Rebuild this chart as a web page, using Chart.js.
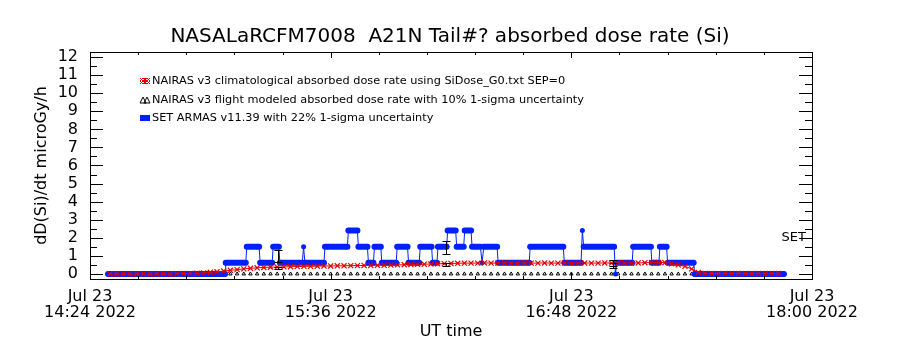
<!DOCTYPE html>
<html>
<head>
<meta charset="utf-8">
<title>NASALaRCFM7008 A21N absorbed dose rate</title>
<script src="https://cdn.jsdelivr.net/npm/chart.js@4/dist/chart.umd.min.js"></script>
<style>
  html, body { margin: 0; padding: 0; background: #fff; }
  canvas { display: block; }
</style>
</head>
<body>
<canvas id="doseChart" width="900" height="350"></canvas>
<script>
// Sample times in minutes after 14:24 UT (Jul 23 2022)
const sampleTimes = [
  6, 8, 10, 12, 14, 16, 18, 20, 22, 24,
  26, 28, 30, 32, 34, 36, 38, 40, 42, 44,
  46, 48, 50, 52, 54, 56, 58, 60, 62, 64,
  66, 68, 70, 72, 74, 76, 78, 80, 82, 84,
  86, 88, 90, 92, 94, 96, 98, 100, 102, 104,
  106, 108, 110, 112, 114, 116, 118, 120, 122, 124,
  126, 128, 130, 132, 134, 136, 138, 140, 142, 144,
  146, 148, 150, 152, 154, 156, 158, 160, 162, 164,
  166, 168, 170, 172, 174, 176, 178, 180, 182, 184,
  186, 188, 190, 192, 194, 196, 198, 200, 202, 204,
  206
];

// NAIRAS v3 climatological absorbed dose rate (microGy/h)
const climDose = [
  0, 0, 0, 0, 0, 0, 0, 0, 0, 0,
  0.01, 0.02, 0.03, 0.04, 0.06, 0.09, 0.12, 0.16, 0.2, 0.24,
  0.28, 0.31, 0.34, 0.36, 0.37, 0.38, 0.39, 0.4, 0.41, 0.42,
  0.42, 0.43, 0.44, 0.44, 0.45, 0.45, 0.46, 0.46, 0.47, 0.47,
  0.48, 0.48, 0.49, 0.5, 0.51, 0.52, 0.53, 0.54, 0.55, 0.56,
  0.57, 0.58, 0.59, 0.6, 0.6, 0.6, 0.61, 0.6, 0.6, 0.61,
  0.6, 0.6, 0.61, 0.6, 0.6, 0.61, 0.6, 0.6, 0.61, 0.6,
  0.6, 0.61, 0.6, 0.6, 0.61, 0.6, 0.6, 0.61, 0.6, 0.61,
  0.62, 0.63, 0.64, 0.62, 0.56, 0.5, 0.42, 0.28, 0.08, 0.03,
  0.02, 0.02, 0.02, 0.02, 0.02, 0.02, 0.02, 0.02, 0.02, 0.02,
  0.02
];

// NAIRAS v3 flight modeled absorbed dose rate (microGy/h)
const modeledDose = [
  0, 0, 0, 0, 0, 0, 0, 0, 0, 0,
  0, 0, 0, 0, 0, 0, 0, 0, 0, 0,
  0, 0, 0, 0, 0, 0, 0, 0, 0, 0,
  0, 0, 0, 0, 0, 0, 0, 0, 0, 0,
  0, 0, 0, 0, 0, 0, 0, 0, 0, 0,
  0, 0, 0, 0, 0, 0, 0, 0, 0, 0,
  0, 0, 0, 0, 0, 0, 0, 0, 0, 0,
  0, 0, 0, 0, 0, 0, 0, 0, 0, 0,
  0, 0, 0, 0, 0, 0, 0, 0, 0, 0,
  0, 0, 0, 0, 0, 0, 0, 0, 0, 0,
  0
];

// SET ARMAS v11.39 readings, as runs of constant dose rate
const setRunStart = [
  5.4, 40.6, 46.9, 50.9, 54.8, 56.8, 63.9, 64.3, 70.3, 77.3,
  80.3, 83.3, 85.1, 87.3, 91.9, 95.3, 98.8, 102.5, 104.1, 107.0,
  109.7, 112.1, 114.3, 117.3, 117.8, 122.1, 131.7, 141.9, 147.3, 147.7,
  157.2, 157.6, 162.5, 168.1, 170.5, 172.8, 180.9
];
const setRunEnd = [
  40.4, 46.6, 50.6, 54.5, 56.5, 63.5, 63.9, 70.0, 77.0, 80.0,
  83.0, 84.8, 87.0, 91.6, 95.0, 98.5, 102.2, 103.8, 106.7, 109.4,
  111.8, 114.0, 116.8, 117.3, 121.8, 131.4, 141.6, 146.9, 147.3, 156.8,
  157.2, 162.2, 167.8, 170.2, 172.5, 180.6, 207.6
];
const setRunDose = [
  0, 0.62, 1.5, 0.62, 1.5, 0.62, 1.5, 0.62, 1.5, 2.4,
  1.5, 0.62, 1.5, 0.62, 1.5, 0.62, 1.5, 0.62, 1.5, 2.4,
  1.5, 2.4, 1.5, 0.62, 1.5, 0.62, 1.5, 0.62, 2.4, 1.5,
  0, 0.62, 1.5, 0.62, 1.5, 0.62, 0
];

// uncertainty bars
const errTimes = [56.2, 106.6, 156.4];
const setErrLow = [0.67, 1.11, 0.33];
const setErrHigh = [1.33, 1.83, 0.78];
const modelErrLow = [0.28, 0.44, 0.44];
const modelErrHigh = [0.39, 0.61, 0.61];

// axis labels
const xTickLabels = [
  ["Jul 23", "14:24 2022"],
  ["Jul 23", "15:36 2022"],
  ["Jul 23", "16:48 2022"],
  ["Jul 23", "18:00 2022"]
];
const titleText = "NASALaRCFM7008  A21N Tail#? absorbed dose rate (Si)";

const FONT = "'DejaVu Sans', 'Liberation Sans', sans-serif";
const RED = "#e00000";
const BLUE = "#0020ff";

const climPoints = sampleTimes.map((t, i) => ({ x: t, y: climDose[i] }));
const modelPoints = sampleTimes.map((t, i) => ({ x: t, y: modeledDose[i] }));
const setPoints = [];
setRunStart.forEach((t0, i) => {
  setPoints.push({ x: t0, y: setRunDose[i] });
  if (setRunEnd[i] > t0) setPoints.push({ x: setRunEnd[i], y: setRunDose[i] });
});

// IDL style frame, inward ticks, legend, error bars and SET label
const idlFrame = {
  id: "idlFrame",
  afterDatasetsDraw(chart) {
    const { ctx, chartArea: a, scales: { x, y } } = chart;
    ctx.save();
    ctx.strokeStyle = "#000";
    ctx.lineWidth = 1;

    // error bars
    ctx.beginPath();
    errTimes.forEach((t, i) => {
      const px = Math.round(x.getPixelForValue(t)) + 0.5;
      [[setErrLow[i], setErrHigh[i]], [modelErrLow[i], modelErrHigh[i]]].forEach(([lo, hi]) => {
        const y0 = Math.round(y.getPixelForValue(lo)) + 0.5;
        const y1 = Math.round(y.getPixelForValue(hi)) + 0.5;
        ctx.moveTo(px, y0); ctx.lineTo(px, y1);
        ctx.moveTo(px - 4, y0); ctx.lineTo(px + 4, y0);
        ctx.moveTo(px - 4, y1); ctx.lineTo(px + 4, y1);
      });
    });
    ctx.stroke();

    // frame + ticks
    ctx.strokeRect(a.left + 0.5, a.top + 0.5, a.right - a.left, a.bottom - a.top);
    ctx.beginPath();
    for (let v = 0; v <= 12; v += 0.5) {
      const py = Math.round(y.getPixelForValue(v)) + 0.5;
      const len = v % 1 === 0 ? 13 : 7;
      ctx.moveTo(a.left, py); ctx.lineTo(a.left + len, py);
      ctx.moveTo(a.right, py); ctx.lineTo(a.right - len, py);
    }
    for (let i = 0; i <= 15; i++) {
      const px = Math.round(x.getPixelForValue(i * 14.4)) + 0.5;
      const len = i % 5 === 0 ? 6 : 3;
      ctx.moveTo(px, a.bottom); ctx.lineTo(px, a.bottom - len);
      ctx.moveTo(px, a.top); ctx.lineTo(px, a.top + len);
    }
    ctx.stroke();

    // SET label at the right axis
    ctx.fillStyle = "#000";
    ctx.font = "13px " + FONT;
    ctx.textAlign = "right";
    ctx.textBaseline = "middle";
    ctx.fillText("SET", a.right - 6, y.getPixelForValue(2));

    // legend
    const rows = [81, 100, 118];
    const sx = 142, tx = 152;
    ctx.textAlign = "left";
    ctx.font = "11.3px " + FONT;
    const ds = chart.data.datasets;
    // red crosses/diamonds
    ctx.strokeStyle = RED;
    ctx.beginPath();
    [sx + 1, sx + 5].forEach(cx => {
      const cy = rows[0];
      ctx.moveTo(cx - 3, cy - 3); ctx.lineTo(cx + 3, cy + 3);
      ctx.moveTo(cx - 3, cy + 3); ctx.lineTo(cx + 3, cy - 3);
      ctx.moveTo(cx, cy - 3); ctx.lineTo(cx + 3, cy); ctx.lineTo(cx, cy + 3); ctx.lineTo(cx - 3, cy); ctx.closePath();
    });
    ctx.stroke();
    // black triangles
    ctx.strokeStyle = "#000";
    ctx.beginPath();
    [sx + 1, sx + 5].forEach(cx => {
      const cy = rows[1];
      ctx.moveTo(cx, cy - 3); ctx.lineTo(cx + 3, cy + 3); ctx.lineTo(cx - 3, cy + 3); ctx.closePath();
    });
    ctx.stroke();
    // blue bar
    ctx.fillStyle = BLUE;
    ctx.fillRect(sx - 2, rows[2] - 3, 10, 6);

    ctx.fillStyle = "#000";
    ctx.fillText(ds[0].label, tx, rows[0]);
    ctx.fillText(ds[2].label, tx, rows[1]);
    ctx.fillText(ds[1].label, tx, rows[2]);
    ctx.restore();
  }
};

const ctx = document.getElementById("doseChart").getContext("2d");
const doseChart = new Chart(ctx, {
  type: "line",
  data: {
    datasets: [
      {
        label: "NAIRAS v3 climatological absorbed dose rate using SiDose_G0.txt SEP=0",
        data: climPoints,
        borderColor: RED,
        borderWidth: 1,
        pointStyle: "crossRot",
        pointRadius: 3.6,
        pointBorderColor: RED,
        pointBorderWidth: 1.2,
        order: 0,
      },
      {
        label: "SET ARMAS v11.39 with 22% 1-sigma uncertainty",
        data: setPoints,
        borderColor: BLUE,
        backgroundColor: BLUE,
        borderWidth: 1,
        borderCapStyle: "round",
        pointRadius: 2.5,
        pointBorderWidth: 0,
        pointBackgroundColor: BLUE,
        segment: {
          borderWidth: (c) => (c.p0.parsed.y === c.p1.parsed.y ? 6 : 1),
        },
        order: 1,
      },
      {
        label: "NAIRAS v3 flight modeled absorbed dose rate with 10% 1-sigma uncertainty",
        data: modelPoints,
        showLine: false,
        pointStyle: "triangle",
        pointRadius: 2,
        pointBorderColor: "#000",
        pointBackgroundColor: "rgba(0,0,0,0)",
        pointBorderWidth: 1,
        order: 2,
      },
    ],
  },
  options: {
    responsive: false,
    animation: false,
    devicePixelRatio: 1,
    layout: { padding: 0 },
    plugins: {
      legend: { display: false },
      tooltip: { enabled: false },
      title: {
        display: true,
        text: titleText,
        color: "#000",
        font: { family: FONT, size: 20, weight: "normal" },
        padding: { top: 25, bottom: 3 },
      },
    },
    scales: {
      x: {
        type: "linear",
        min: 0,
        max: 216,
        grid: { display: false, drawTicks: false },
        border: { display: false },
        ticks: {
          stepSize: 72,
          autoSkip: false,
          maxRotation: 0,
          padding: 10,
          color: "#000",
          font: { family: FONT, size: 16, lineHeight: 1 },
          callback: (value, index) => xTickLabels[index],
        },
        title: {
          display: true,
          text: "UT time",
          color: "#000",
          font: { family: FONT, size: 16 },
          padding: { top: 0, bottom: 9 },
        },
        afterFit: (scale) => { scale.height = 71; },
      },
      y: {
        min: -0.28,
        max: 12.28,
        grid: { display: false, drawTicks: false },
        border: { display: false },
        ticks: {
          stepSize: 1,
          includeBounds: false,
          autoSkip: false,
          padding: 12,
          color: "#000",
          font: { family: FONT, size: 16 },
        },
        title: {
          display: true,
          text: "dD(Si)/dt microGy/h",
          color: "#000",
          font: { family: FONT, size: 16 },
          padding: { top: 32, bottom: 0 },
        },
        afterFit: (scale) => { scale.width = 90; },
      },
      // empty right axis, only reserves the right margin
      yRight: {
        position: "right",
        min: -0.28,
        max: 12.28,
        grid: { display: false, drawTicks: false },
        border: { display: false },
        ticks: { display: false },
        afterFit: (scale) => { scale.width = 88; },
      },
    },
  },
  plugins: [idlFrame],
});
</script>
</body>
</html>
